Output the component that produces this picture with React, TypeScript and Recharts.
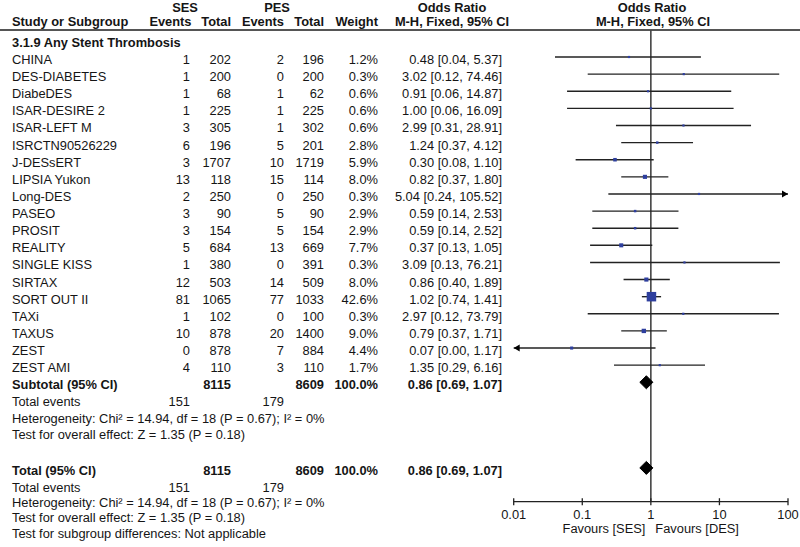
import React from 'react';
import { ScatterChart, Scatter, XAxis, YAxis, ReferenceLine, Customized } from 'recharts';

// ---------- data ----------
const studies = ['CHINA', 'DES-DIABETES', 'DiabeDES', 'ISAR-DESIRE 2', 'ISAR-LEFT M', 'ISRCTN90526229', 'J-DESsERT', 'LIPSIA Yukon', 'Long-DES', 'PASEO', 'PROSIT', 'REALITY', 'SINGLE KISS', 'SIRTAX', 'SORT OUT II', 'TAXi', 'TAXUS', 'ZEST', 'ZEST AMI'];
const sesEvents = [1, 1, 1, 1, 3, 6, 3, 13, 2, 3, 3, 5, 1, 12, 81, 1, 10, 0, 4];
const sesTotal = [202, 200, 68, 225, 305, 196, 1707, 118, 250, 90, 154, 684, 380, 503, 1065, 102, 878, 878, 110];
const pesEvents = [2, 0, 1, 1, 1, 5, 10, 15, 0, 5, 5, 13, 0, 14, 77, 0, 20, 7, 3];
const pesTotal = [196, 200, 62, 225, 302, 201, 1719, 114, 250, 90, 154, 669, 391, 509, 1033, 100, 1400, 884, 110];
const weights = [1.2, 0.3, 0.6, 0.6, 0.6, 2.8, 5.9, 8.0, 0.3, 2.9, 2.9, 7.7, 0.3, 8.0, 42.6, 0.3, 9.0, 4.4, 1.7];
const oddsRatio = [0.48, 3.02, 0.91, 1.0, 2.99, 1.24, 0.3, 0.82, 5.04, 0.59, 0.59, 0.37, 3.09, 0.86, 1.02, 2.97, 0.79, 0.07, 1.35];
const ciLow = [0.04, 0.12, 0.06, 0.06, 0.31, 0.37, 0.08, 0.37, 0.24, 0.14, 0.14, 0.13, 0.13, 0.4, 0.74, 0.12, 0.37, 0.0, 0.29];
const ciHigh = [5.37, 74.46, 14.87, 16.09, 28.91, 4.12, 1.1, 1.8, 105.52, 2.53, 2.52, 1.05, 76.21, 1.89, 1.41, 73.79, 1.71, 1.17, 6.16];

const pooledLabels = ['Subtotal (95% CI)', 'Total (95% CI)'];
const pooledOR = [0.86, 0.86];
const pooledLow = [0.69, 0.69];
const pooledHigh = [1.07, 1.07];
const pooledSesTotal = [8115, 8115];
const pooledPesTotal = [8609, 8609];
const pooledWeight = ['100.0%', '100.0%'];
const totalSesEvents = 151;
const totalPesEvents = 179;

const groupTitle = '3.1.9 Any Stent Thrombosis';
const heterogeneityText = 'Heterogeneity: Chi² = 14.94, df = 18 (P = 0.67); I² = 0%';
const overallText = 'Test for overall effect: Z = 1.35 (P = 0.18)';
const subgroupText = 'Test for subgroup differences: Not applicable';

const xTicks = [0.01, 0.1, 1, 10, 100];
const xTickLabels = ['0.01', '0.1', '1', '10', '100'];
const favourLeft = 'Favours [SES]';
const favourRight = 'Favours [DES]';

// ---------- layout / style ----------
const X_MIN = 0.01;
const X_MAX = 100;
const Y_DOMAIN: [number, number] = [-1.577, 25.975];
const FONT = '"Liberation Sans", Arial, Helvetica, sans-serif';
const FS = 12.85;
const TXT = '#151515';
const LINE = '#222';
const BLUE = '#2e3f9e';
const DIAMOND_HALF = 0.38; // row units

const COL = { name: 12, sesE: 190, sesT: 231, pesE: 284, pesT: 324, weight: 378, or: 502 };

const fmt = (v: number) => v.toFixed(2);

type Row = { pos: number; kind: string; i?: number; text?: string; extra?: string[] };
const rows: Row[] = [
  { pos: -1, kind: 'group', text: groupTitle },
  ...studies.map((_, i) => ({ pos: i, kind: 'study', i })),
  { pos: 19, kind: 'pooled', i: 0 },
  { pos: 20, kind: 'events' },
  { pos: 20.95, kind: 'note', text: heterogeneityText },
  { pos: 21.89, kind: 'note', text: overallText },
  { pos: 24, kind: 'pooled', i: 1 },
  { pos: 25, kind: 'events' },
  { pos: 25.87, kind: 'note', text: heterogeneityText, extra: [overallText, subgroupText] },
];
const pooledPos = [19, 24];

const squareData = studies.map((_, i) => ({ x: oddsRatio[i], y: i, w: weights[i] }));
const rightArrows = studies.map((_, i) => i).filter((i) => ciHigh[i] > X_MAX).map((i) => ({ x: X_MAX, y: i }));
const leftArrows = studies.map((_, i) => i).filter((i) => ciLow[i] < X_MIN).map((i) => ({ x: X_MIN, y: i }));
const diamondData = pooledPos.map((p, k) => [
  { x: pooledLow[k], y: p },
  { x: pooledOR[k], y: p - DIAMOND_HALF },
  { x: pooledHigh[k], y: p },
  { x: pooledOR[k], y: p + DIAMOND_HALF },
  { x: pooledLow[k], y: p },
]);

const T = (p: any) => (
  <text fontFamily={FONT} fontSize={FS} fill={TXT} {...p} />
);

const RowTick = (props: any) => {
  const { y, payload } = props;
  const row = rows.find((r) => Math.abs(r.pos - payload.value) < 1e-6);
  if (!row) return null;
  const b = y + 7;
  if (row.kind === 'group') {
    return <T x={COL.name} y={b} fontWeight="bold">{row.text}</T>;
  }
  if (row.kind === 'study') {
    const i = row.i as number;
    return (
      <g>
        <T x={COL.name} y={b}>{studies[i]}</T>
        <T x={COL.sesE} y={b} textAnchor="end">{sesEvents[i]}</T>
        <T x={COL.sesT} y={b} textAnchor="end">{sesTotal[i]}</T>
        <T x={COL.pesE} y={b} textAnchor="end">{pesEvents[i]}</T>
        <T x={COL.pesT} y={b} textAnchor="end">{pesTotal[i]}</T>
        <T x={COL.weight} y={b} textAnchor="end">{weights[i].toFixed(1)}%</T>
        <T x={COL.or} y={b} textAnchor="end">{`${fmt(oddsRatio[i])} [${fmt(ciLow[i])}, ${fmt(ciHigh[i])}]`}</T>
      </g>
    );
  }
  if (row.kind === 'pooled') {
    const k = row.i as number;
    return (
      <g>
        <T x={COL.name} y={b} fontWeight="bold">{pooledLabels[k]}</T>
        <T x={COL.sesT} y={b} textAnchor="end" fontWeight="bold">{pooledSesTotal[k]}</T>
        <T x={COL.pesT} y={b} textAnchor="end" fontWeight="bold">{pooledPesTotal[k]}</T>
        <T x={COL.weight} y={b} textAnchor="end" fontWeight="bold">{pooledWeight[k]}</T>
        <T x={COL.or} y={b} textAnchor="end" fontWeight="bold">{`${fmt(pooledOR[k])} [${fmt(pooledLow[k])}, ${fmt(pooledHigh[k])}]`}</T>
      </g>
    );
  }
  if (row.kind === 'events') {
    return (
      <g>
        <T x={COL.name} y={b}>Total events</T>
        <T x={COL.sesE} y={b} textAnchor="end">{totalSesEvents}</T>
        <T x={COL.pesE} y={b} textAnchor="end">{totalPesEvents}</T>
      </g>
    );
  }
  return (
    <g>
      <T x={COL.name} y={b}>{row.text}</T>
      {(row.extra || []).map((t, j) => (
        <T key={j} x={COL.name} y={b + 14.8 * (j + 1) + (j === 1 ? 1 : 0)}>{t}</T>
      ))}
    </g>
  );
};

const XTick = (props: any) => {
  const { x, y, payload, index } = props;
  return (
    <g>
      <line x1={x} x2={x} y1={y - 3.5} y2={y + 3.5} stroke={LINE} strokeWidth={1.3} />
      <T x={x} y={y + 17} textAnchor="middle">{xTickLabels[index] ?? String(payload.value)}</T>
      {payload.value === 1 && (
        <g>
          <T x={x - 5.5} y={y + 30.8} textAnchor="end">{favourLeft}</T>
          <T x={x + 4.5} y={y + 30.8} textAnchor="start">{favourRight}</T>
        </g>
      )}
    </g>
  );
};

const Header = () => (
  <g>
    <T x={185} y={11.8} textAnchor="middle" fontWeight="bold">SES</T>
    <T x={277} y={11.8} textAnchor="middle" fontWeight="bold">PES</T>
    <T x={452} y={11.8} textAnchor="middle" fontWeight="bold">Odds Ratio</T>
    <T x={652} y={11.8} textAnchor="middle" fontWeight="bold">Odds Ratio</T>
    <T x={COL.name} y={26.3} fontWeight="bold">Study or Subgroup</T>
    <T x={COL.sesE + 1.5} y={26.3} textAnchor="end" fontWeight="bold">Events</T>
    <T x={COL.sesT} y={26.3} textAnchor="end" fontWeight="bold">Total</T>
    <T x={COL.pesE} y={26.3} textAnchor="end" fontWeight="bold">Events</T>
    <T x={COL.pesT} y={26.3} textAnchor="end" fontWeight="bold">Total</T>
    <T x={COL.weight} y={26.3} textAnchor="end" fontWeight="bold">Weight</T>
    <T x={452} y={26.3} textAnchor="middle" fontWeight="bold">M-H, Fixed, 95% CI</T>
    <T x={653} y={26.3} textAnchor="middle" fontWeight="bold">M-H, Fixed, 95% CI</T>
    <line x1={0} x2={800} y1={30} y2={30} stroke="#555" strokeWidth={1.8} />
  </g>
);

const SquareShape = (props: any) => {
  const { cx, cy, payload } = props;
  const s = Math.max(2.2, 9.5 * Math.sqrt(payload.w / 42.6));
  return <rect x={cx - s / 2} y={cy - s / 2} width={s} height={s} fill={BLUE} />;
};
const RightArrow = (props: any) => {
  const { cx, cy } = props;
  return <polygon points={`${cx},${cy} ${cx - 6},${cy - 3.5} ${cx - 6},${cy + 3.5}`} fill="#000" />;
};
const LeftArrow = (props: any) => {
  const { cx, cy } = props;
  return <polygon points={`${cx},${cy} ${cx + 6},${cy - 3.5} ${cx + 6},${cy + 3.5}`} fill="#000" />;
};
const NoShape = () => <g />;

export default function App() {
  return (
    <div style={{ position: 'absolute', left: 0, top: 0, width: 800, height: 547, background: '#fff' }}>
      <ScatterChart width={800} height={547} margin={{ top: 30, right: 12, bottom: 0, left: 0 }}>
        <XAxis
          dataKey="x"
          type="number"
          scale="log"
          domain={[X_MIN, X_MAX]}
          allowDataOverflow
          ticks={xTicks}
          interval={0}
          tickSize={0}
          tickMargin={0}
          tickLine={false}
          tick={<XTick />}
          axisLine={{ stroke: LINE, strokeWidth: 1.3 }}
          height={45.3}
        />
        <YAxis
          dataKey="y"
          type="number"
          domain={Y_DOMAIN}
          allowDataOverflow
          reversed
          ticks={rows.map((r) => r.pos)}
          interval={0}
          width={513.7}
          axisLine={false}
          tickLine={false}
          tick={<RowTick />}
        />
        <Customized component={<Header />} />
        <ReferenceLine x={1} stroke="#444" strokeWidth={1.6} ifOverflow="visible" />
        {studies.map((_, i) => (
          <ReferenceLine
            key={`ci-${i}`}
            segment={[
              { x: Math.max(ciLow[i], X_MIN), y: i },
              { x: Math.min(ciHigh[i], X_MAX), y: i },
            ]}
            stroke={LINE}
            strokeWidth={1.4}
            ifOverflow="visible"
          />
        ))}
        <Scatter data={squareData} shape={<SquareShape />} isAnimationActive={false} />
        <Scatter data={rightArrows} shape={<RightArrow />} isAnimationActive={false} />
        <Scatter data={leftArrows} shape={<LeftArrow />} isAnimationActive={false} />
        {diamondData.map((d, k) => (
          <Scatter
            key={`dm-${k}`}
            data={d}
            shape={<NoShape />}
            line={{ stroke: '#000', fill: '#000', strokeWidth: 1 }}
            lineType="joint"
            isAnimationActive={false}
          />
        ))}
      </ScatterChart>
    </div>
  );
}
